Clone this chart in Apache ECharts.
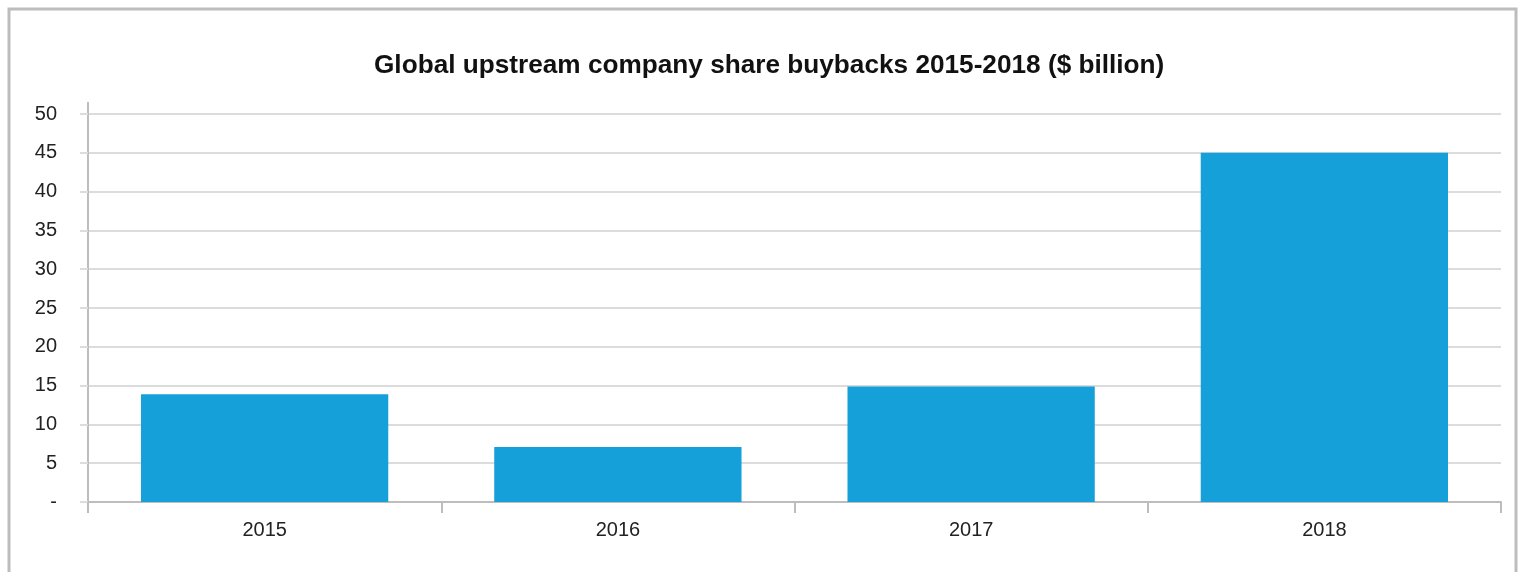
<!DOCTYPE html>
<html><head><meta charset="utf-8">
<script src="https://cdn.jsdelivr.net/npm/echarts@6/dist/echarts.min.js"></script>
<style>html,body{margin:0;padding:0;background:#fff}#c{width:1522px;height:572px}</style>
</head><body><div id="c"></div>
<script>
const categories = ['2015', '2016', '2017', '2018'];
const buybacks = [13.9, 7.1, 14.9, 45];
const yTicks = [0, 5, 10, 15, 20, 25, 30, 35, 40, 45, 50];

(function () {
const chart = echarts.init(document.getElementById('c'), null, {renderer: 'canvas'});
const font = 'Liberation Sans, Arial, sans-serif';
chart.setOption({
  animation: false,
  backgroundColor: '#fff',
  title: {
    text: 'Global upstream company share buybacks 2015-2018 ($ billion)',
    left: 369, top: 48,
    textStyle: {fontFamily: font, fontSize: 26.2, fontWeight: 'bold', color: '#111'}
  },
  graphic: [{
    id: 'frame', type: 'rect', shape: {x: 9, y: 9, width: 1507, height: 600},
    style: {fill: 'none', stroke: '#bdbdbd', lineWidth: 3}, silent: true
  }],
  grid: {left: 88, right: 21, top: 114, bottom: 70},
  xAxis: {
    type: 'category', data: categories,
    axisLine: {lineStyle: {color: '#bdbdbd', width: 2}},
    axisTick: {show: true, length: 11, lineStyle: {color: '#bdbdbd', width: 2}},
    axisLabel: {fontFamily: font, fontSize: 20, color: '#222', margin: 18}
  },
  yAxis: {
    type: 'value', min: yTicks[0], max: yTicks[yTicks.length - 1], interval: 5,
    axisLine: {show: true, lineStyle: {color: '#bdbdbd', width: 2}},
    axisTick: {show: true, length: 8, lineStyle: {color: '#dcdcdc', width: 2}},
    splitLine: {lineStyle: {color: '#dcdcdc', width: 2}},
    axisLabel: {fontFamily: font, fontSize: 20, color: '#222', margin: 31,
      formatter: v => v === 0 ? '-' : String(v)}
  },
  series: [{
    type: 'bar', data: buybacks, barCategoryGap: '30%',
    itemStyle: {color: '#15a0da'}
  }]
});
const yTop = chart.convertToPixel({yAxisIndex: 0}, yTicks[yTicks.length - 1]);
const c0 = chart.convertToPixel({xAxisIndex: 0}, categories[0]);
const c1 = chart.convertToPixel({xAxisIndex: 0}, categories[1]);
const xLeft = c0 - (c1 - c0) / 2;
chart.setOption({graphic: [{
  id: 'ext', type: 'line', shape: {x1: xLeft, y1: yTop - 12, x2: xLeft, y2: yTop},
  style: {stroke: '#bdbdbd', lineWidth: 2}, silent: true
}]});
})();
</script></body></html>
